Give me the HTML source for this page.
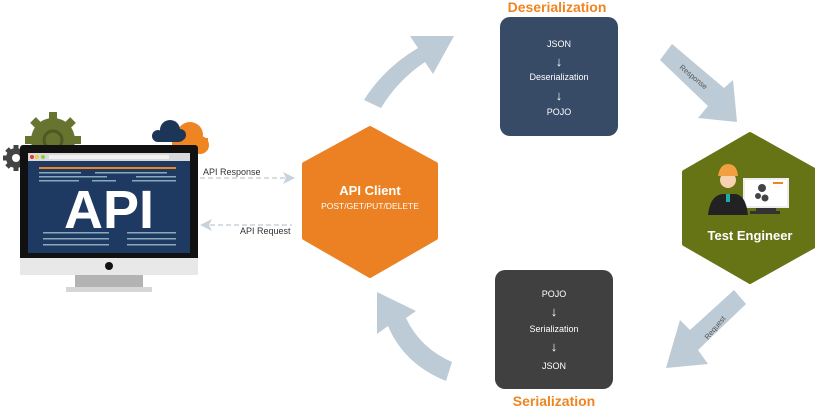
<!DOCTYPE html>
<html><head><style>
body{margin:0;width:815px;height:407px;background:#fff;overflow:hidden;font-family:"Liberation Sans",sans-serif}
</style></head><body>
<svg width="815" height="407" viewBox="0 0 815 407" xmlns="http://www.w3.org/2000/svg" font-family="Liberation Sans, sans-serif">
<g fill="#67742f">
<circle cx="53" cy="140" r="22"/>
<g stroke="#67742f" stroke-width="8"><line x1="53" y1="112" x2="53" y2="168"/><line x1="25" y1="140" x2="81" y2="140"/><line x1="33" y1="120" x2="73" y2="160"/><line x1="73" y1="120" x2="33" y2="160"/></g>
</g>
<circle cx="53" cy="140" r="9" fill="none" stroke="#4d5822" stroke-width="3"/>
<g fill="#444"><circle cx="16" cy="158" r="10"/><g stroke="#444" stroke-width="5"><line x1="16" y1="145" x2="16" y2="171"/><line x1="3" y1="158" x2="29" y2="158"/><line x1="7" y1="149" x2="25" y2="167"/><line x1="25" y1="149" x2="7" y2="167"/></g></g>
<circle cx="16" cy="158" r="4" fill="#fff"/>
<g fill="#ee8522"><circle cx="190" cy="135" r="13"/><circle cx="200" cy="145" r="9"/><rect x="172" y="138" width="36" height="12"/></g>
<g fill="#1d3557"><circle cx="170" cy="130" r="10"/><circle cx="158" cy="136" r="6"/><circle cx="180" cy="135" r="6"/><rect x="154" y="132" width="30" height="10" rx="5"/></g>
<rect x="20" y="145" width="178" height="130" rx="3" fill="#111"/>
<rect x="20" y="258" width="178" height="17" fill="#e8e8e8"/>
<circle cx="109" cy="266" r="4" fill="#111"/>
<rect x="75" y="275" width="68" height="12" fill="#b3b3b3"/>
<rect x="66" y="287" width="86" height="5" fill="#d6d6d6"/>
<rect x="28" y="153" width="162" height="100" fill="#1e3a62"/>
<rect x="28" y="153" width="162" height="8" fill="#d9d9d9"/>
<circle cx="32" cy="157" r="2" fill="#e33"/><circle cx="37" cy="157" r="2" fill="#ec3"/><circle cx="43" cy="157" r="2" fill="#8c4"/>
<rect x="49" y="155" width="120" height="4" fill="#f2f2f2"/>
<rect x="39" y="167" width="137" height="2" fill="#ee8522"/>
<g fill="#8ab"><rect x="39" y="172" width="42" height="1.5"/><rect x="95" y="172" width="72" height="1.5"/><rect x="39" y="176" width="68" height="1.5"/><rect x="136" y="176" width="40" height="1.5"/><rect x="39" y="180" width="40" height="1.5"/><rect x="92" y="180" width="24" height="1.5"/><rect x="132" y="180" width="44" height="1.5"/>
<rect x="43" y="232" width="66" height="1.5"/><rect x="43" y="238" width="66" height="1.5"/><rect x="43" y="244" width="66" height="1.5"/><rect x="127" y="232" width="49" height="1.5"/><rect x="127" y="238" width="49" height="1.5"/><rect x="127" y="244" width="49" height="1.5"/></g>
<text x="109" y="228" font-size="54" font-weight="bold" fill="#fff" text-anchor="middle">API</text>
<line x1="200" y1="178" x2="285" y2="178" stroke="#c7d3dc" stroke-width="1.5" stroke-dasharray="5,3"/>
<polygon points="295,178 283,172 286,178 283,184" fill="#c7d3dc"/>
<text x="203" y="175" font-size="9" fill="#333">API Response</text>
<line x1="210" y1="225" x2="292" y2="225" stroke="#c7d3dc" stroke-width="1.5" stroke-dasharray="5,3"/>
<polygon points="200,225 212,219 209,225 212,231" fill="#c7d3dc"/>
<text x="240" y="234" font-size="9" fill="#333">API Request</text>
<polygon points="370,128 436,164 436,238 370,276 304,238 304,164" fill="#eb8123" stroke="#eb8123" stroke-width="4" stroke-linejoin="round"/>
<text x="370" y="195" font-size="13" font-weight="bold" fill="#fff" text-anchor="middle">API Client</text>
<text x="370" y="209" font-size="8.5" fill="#fff" text-anchor="middle">POST/GET/PUT/DELETE</text>
<polygon points="750,134 818,172 818,244 750,282 684,244 684,172" fill="#677416" stroke="#677416" stroke-width="4" stroke-linejoin="round"/>
<rect x="743" y="178" width="46" height="30" fill="#eee"/><rect x="745" y="180" width="42" height="26" fill="#fff"/>
<rect x="756" y="208" width="20" height="3" fill="#333"/><rect x="750" y="211" width="30" height="3" fill="#333"/>
<g fill="#444"><circle cx="762" cy="188" r="4"/><circle cx="758" cy="196" r="3"/><circle cx="765" cy="198" r="3.5"/></g>
<rect x="773" y="182" width="10" height="2" fill="#ee8522"/>
<path d="M708 215 Q710 196 722 194 L736 194 Q746 196 748 215 Z" fill="#222"/>
<rect x="726" y="194" width="4" height="8" fill="#2aa"/>
<circle cx="728" cy="180" r="8" fill="#f6d2b0"/>
<path d="M718 176 Q720 164 728 164 Q737 164 738 176 Z" fill="#f0a040"/>
<text x="750" y="240" font-size="13" font-weight="bold" fill="#fff" text-anchor="middle">Test Engineer</text>
<text x="557" y="12" font-size="14" font-weight="bold" fill="#ee8522" text-anchor="middle">Deserialization</text>
<rect x="500" y="17" width="118" height="119" rx="10" fill="#374a66"/>
<g fill="#fff" font-size="9" text-anchor="middle">
<text x="559" y="47">JSON</text><text x="559" y="66" font-size="13">↓</text><text x="559" y="80">Deserialization</text><text x="559" y="100" font-size="13">↓</text><text x="559" y="115">POJO</text>
</g>
<rect x="495" y="270" width="118" height="119" rx="10" fill="#404040"/>
<g fill="#fff" font-size="9" text-anchor="middle">
<text x="554" y="297">POJO</text><text x="554" y="316" font-size="13">↓</text><text x="554" y="332">Serialization</text><text x="554" y="351" font-size="13">↓</text><text x="554" y="369">JSON</text>
</g>
<text x="554" y="406" font-size="14" font-weight="bold" fill="#ee8522" text-anchor="middle">Serialization</text>
<g fill="#bccbd5">
<path d="M381,108 Q398,80 425,62 L433,74 L454,36 L410,36 L418,48 Q384,68 364,100 Z"/>
<path d="M452,362 Q420,348 406,318 L416,311 L377,292 L377,334 L388,326 Q404,364 446,381 Z"/>
<polygon points="660,60 672,44 724,88 733,80 737,122 698,118 708,106"/>
<polygon points="746,304 734,290 690,330 680,320 666,368 708,364 698,350"/>
</g>
<text font-size="7.5" fill="#555" transform="translate(679,68) rotate(40)">Response</text>
<text font-size="7.5" fill="#555" transform="translate(708,340) rotate(-50)">Request</text>
</svg>
</body></html>
